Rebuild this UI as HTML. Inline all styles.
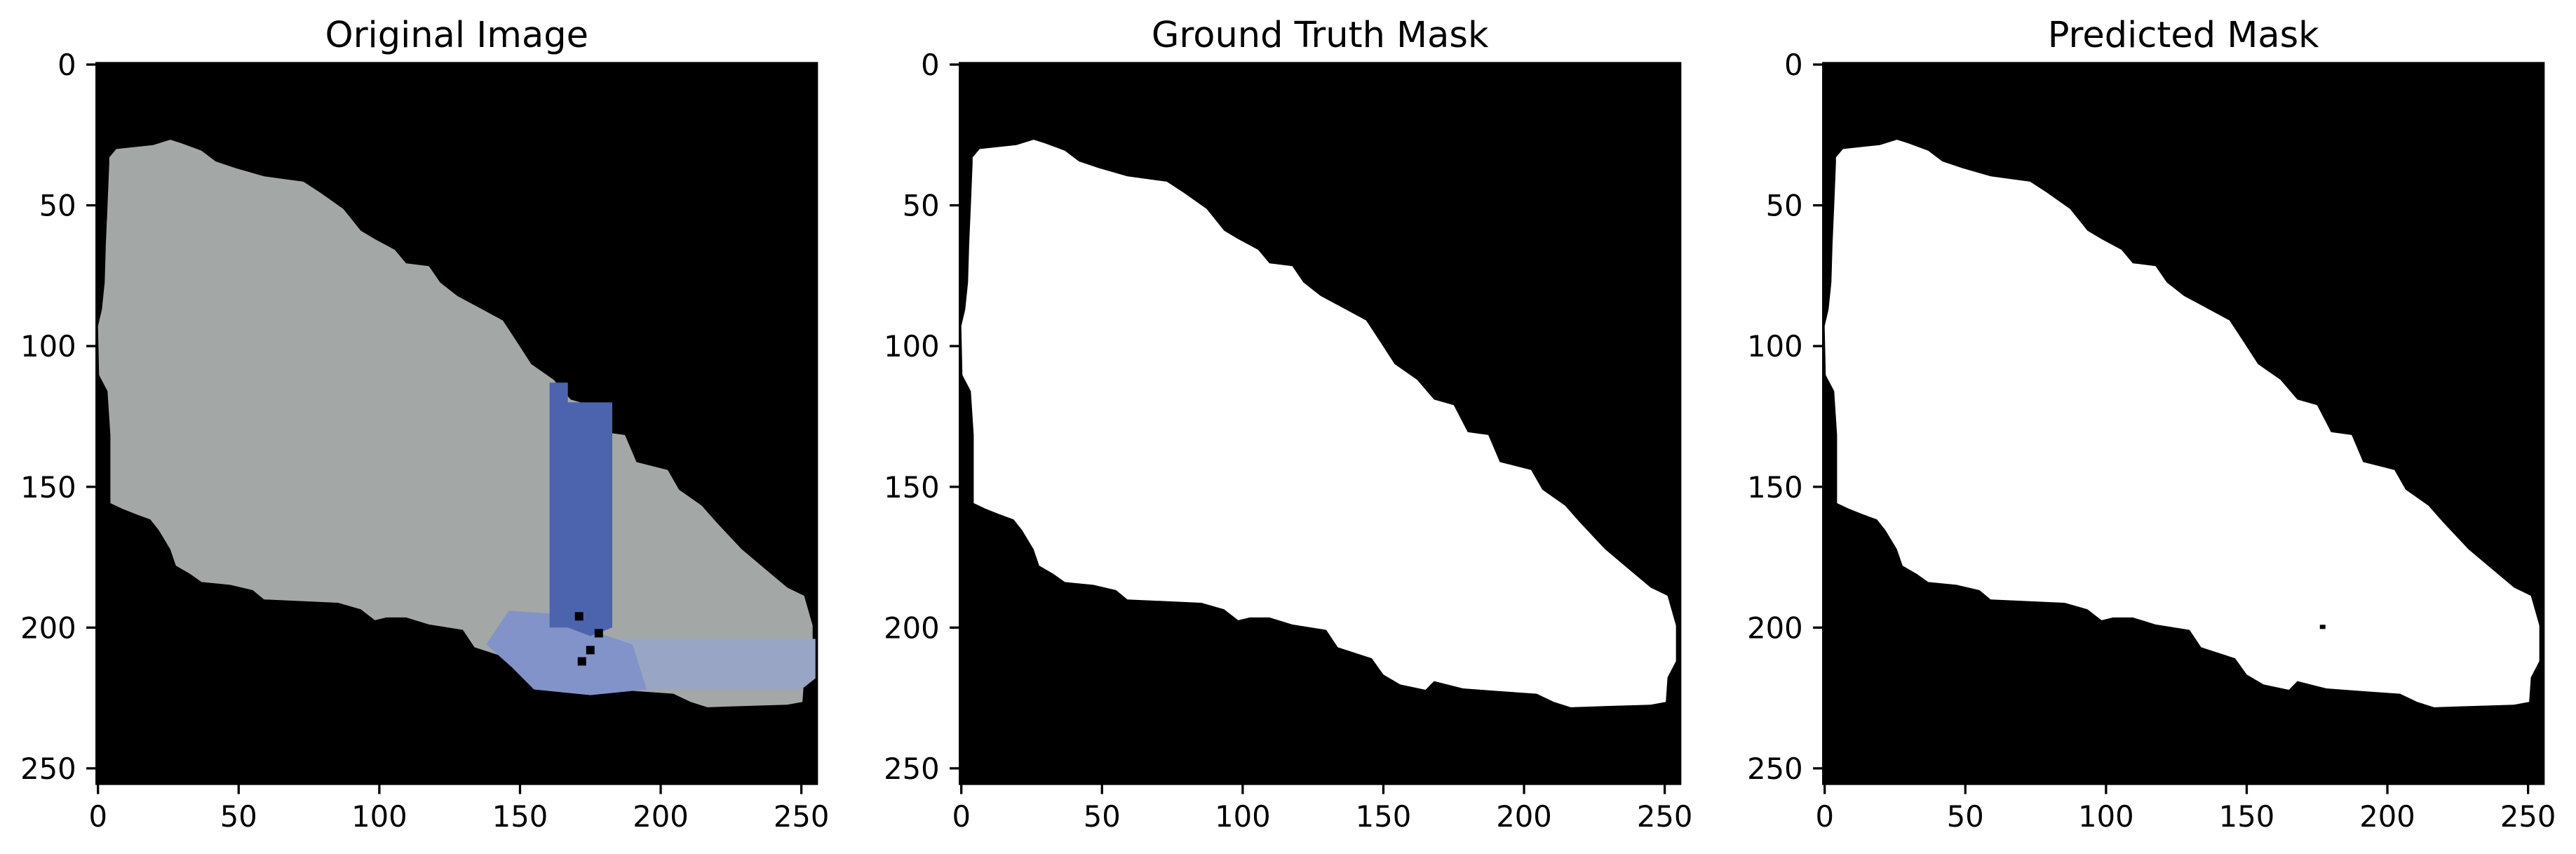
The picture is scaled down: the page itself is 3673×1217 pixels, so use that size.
<!DOCTYPE html>
<html><head><meta charset="utf-8"><style>
html,body{margin:0;padding:0;background:#fff;}
svg{display:block;}
text{font-family:"DejaVu Sans","Liberation Sans",sans-serif;fill:#000;}
</style></head><body>
<svg id="fig" width="3673" height="1217" viewBox="0 0 3673 1217" xmlns="http://www.w3.org/2000/svg">
<rect width="3673" height="1217" fill="#fff"/>
</svg>
<script>
// ---- data ----
const panelTitles = ["Original Image", "Ground Truth Mask", "Predicted Mask"];
const xTicks = [0, 50, 100, 150, 200, 250];
const yTicks = [0, 50, 100, 150, 200, 250];
const imgSize = 256;
// outline of the object (column, row) in image pixel coordinates
const outlineX = [4,6.5,19.6,25.7,29.7,36.8,41.8,48.9,59,73,79,87.2,93.4,98.4,105.5,109.5,117.6,121.6,127.7,134.8,143.9,149,154,162,168,175,180,187.3,191.4,202.5,206.5,214.6,219.7,228.8,236.9,245,251,254,254,251,250.4,245,224.7,216.6,210.6,204.5,190.4,178.3,168,165,156,150,145.9,133.8,129.7,117.6,109.5,102.5,98.4,93.4,85.3,59,55,46.9,36.8,32.7,27.7,25.7,21.6,18.6,13.5,8.5,4.4,4.4,3.4,0.4,0,1.4,2.4,2.8,3.4,4];
const outlineY = [33,30,28.6,26.7,28,30.6,34.4,36.8,39.7,41.6,45.5,51.3,59,62,65.8,70.6,71.6,77.4,82.2,86,90.9,98.7,106.4,112,119,121,130.6,131.6,141.2,144,151,156.7,162.5,172.2,179,185.8,188.7,199.3,211.9,217.7,226.4,227.4,228,228.3,226.4,223.5,222.5,221.6,219,222.1,220.2,216.7,210.9,207,200.8,198.9,196.4,196.4,197.4,193.5,191.2,190,186.7,184.8,183.8,180.9,178,172.2,165.4,161.6,159.7,157.7,155.8,131.6,116,110.3,92.9,87,77.4,63.9,50.3,35];
// blue tape regions in original image (col, row)
const vBandX = [160.5, 167, 167, 182.8, 182.8, 175, 167, 160.5];
const vBandY = [113, 113, 120, 120, 200, 203, 200, 200];
const hBandX = [180, 255, 255, 250, 180];
const hBandY = [204, 204, 218, 222, 222];
const patchX = [138, 146, 160, 178, 190, 195, 175, 155, 147];
const patchY = [206, 194, 195, 202, 206, 222, 224, 222, 214];
const darkSpotsX = [171, 178, 172, 175];
const darkSpotsY = [196, 202, 212, 208];
const predDotX = [177];
const predDotY = [200];

// ---- layout ----
const panelLeft = [137.7, 1368.7, 2599.7];
const axTop = 90, axSize = 1027;
const NS = "http://www.w3.org/2000/svg";
const svg = document.getElementById('fig');
function el(tag, attrs, parent){const e=document.createElementNS(NS,tag);for(const k in attrs)e.setAttribute(k,attrs[k]);(parent||svg).appendChild(e);return e;}
function sx(p, v){return panelLeft[p] + (v + 0.5) * axSize / imgSize;}
function sy(v){return axTop + (v + 0.5) * axSize / imgSize;}
function pts(p, xs, ys){return xs.map((x,i)=>sx(p,x).toFixed(1)+','+sy(ys[i]).toFixed(1)).join(' ');}

panelTitles.forEach((title, p) => {
  const g = el('g', {});
  
  
  const L = panelLeft[p];
  const bg = el('rect', {x:L, y:axTop, width:axSize, height:axSize, fill:'#000'}, g);
  
  
  const shape = el('polygon', {points: pts(p, outlineX, outlineY), fill: p===0 ? '#a3a7a6' : '#fff'}, g);
  
  
  if (p === 0) {
    const hb = el('polygon', {points: pts(p, hBandX, hBandY), fill:'#98a5c4'}, g);
    
    
    const pa = el('polygon', {points: pts(p, patchX, patchY), fill:'#8193c8'}, g);
    
    
    const vb = el('polygon', {points: pts(p, vBandX, vBandY), fill:'#4c64ae'}, g);
    
    
    darkSpotsX.forEach((x,i)=>{
      const d = el('rect', {x:sx(p,x)-6, y:sy(darkSpotsY[i])-6, width:12, height:12, fill:'#000'}, g);
      
      
    });
  }
  if (p === 2) {
    predDotX.forEach((x,i)=>{
      const d = el('rect', {x:sx(p,x)-4, y:sy(predDotY[i])-4, width:8, height:6, fill:'#000'}, g);
      
      
    });
  }
  const t = el('text', {x: L + axSize/2, y: 67, 'font-size': 51, 'text-anchor':'middle'}, g);
  t.textContent = title;
  
  
  xTicks.forEach(v => {
    const x = sx(p, v);
    const tk = el('line', {x1:x, x2:x, y1:axTop+axSize, y2:axTop+axSize+14.6, stroke:'#000', 'stroke-width':3.3}, g);
    
    
    const lb = el('text', {x:x, y:1178, 'font-size':41.7, 'text-anchor':'middle'}, g);
    lb.textContent = v;
    
    
  });
  yTicks.forEach(v => {
    const y = sy(v);
    const tk = el('line', {x1:L-14.6, x2:L, y1:y, y2:y, stroke:'#000', 'stroke-width':3.3}, g);
    
    
    const lb = el('text', {x:L-29, y:y+15, 'font-size':41.7, 'text-anchor':'end'}, g);
    lb.textContent = v;
    
    
  });
  const fr = el('rect', {x:L, y:axTop, width:axSize, height:axSize, fill:'none', stroke:'#000', 'stroke-width':3.3}, g);
  
  
});
</script>
</body></html>
